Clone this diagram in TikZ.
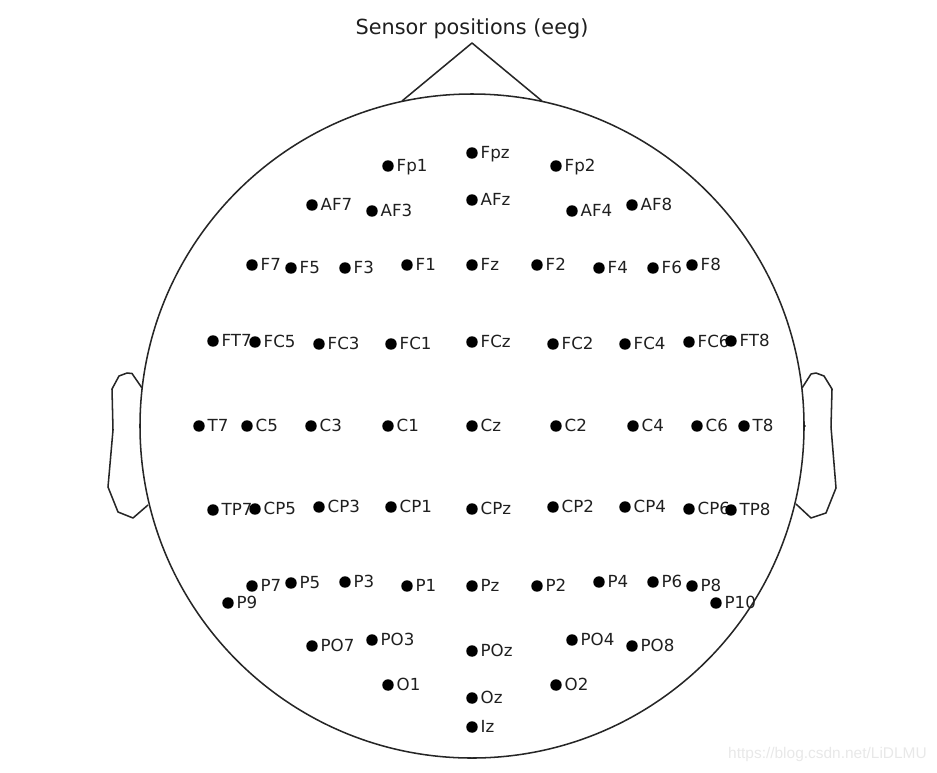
\documentclass[tikz,border=0pt]{standalone}
\usepackage{fontspec}
\setmainfont{DejaVu Sans}
\newfontfamily\markfont{Liberation Sans}
\tikzset{
  outline/.style={draw=black!85, line width=1.15pt, line join=round},
  sensor/.style={circle, fill=black, inner sep=0pt, minimum size=8.6pt},
  sensorlabel/.style={font=\fontsize{12.5}{14}\selectfont, text=black!88, inner sep=0pt, text height=9pt, text depth=1.5pt, label distance=1.8pt}
}
\begin{document}
\begin{tikzpicture}[x=0.75pt, y=-0.75pt]

  \useasboundingbox (0, 0) rectangle (937, 772);

  % -- Title --
  \node[font=\fontsize{15.6}{18}\selectfont, text=black!88] (title) at (472, 29) {Sensor positions (eeg)};

  % -- Head outline --
  \draw[outline] (472, 426) circle (332);

  % -- Nose --
  \draw[outline] (402, 101) -- (472, 43) -- (542, 101);

  % -- Ears --
  \draw[outline] (142, 388) -- (132, 373.5) -- (127, 373) -- (119, 376) -- (112, 389) -- (113, 430) -- (108, 487) -- (118, 512) -- (133, 518) -- (148, 505);
  \draw[outline] (802, 388) -- (811, 374) -- (816, 373) -- (824, 376) -- (832, 389) -- (831, 427) -- (836, 488) -- (826, 513) -- (811, 518) -- (796, 504);
  \fill[black] (805, 426) circle (0.8);

  % -- Sensors, row by row --
  \foreach \x/\y/\name in {
    388/166/Fp1, 472/153/Fpz, 556/166/Fp2,
    312/205/AF7, 372/211/AF3, 472/200/AFz, 572/211/AF4, 632/205/AF8,
    252/265/F7, 291/268/F5, 345/268/F3, 407/265/F1, 472/265/Fz, 537/265/F2, 599/268/F4, 653/268/F6, 692/265/F8,
    213/341/FT7, 255/342/FC5, 319/344/FC3, 391/344/FC1, 472/342/FCz, 553/344/FC2, 625/344/FC4, 689/342/FC6, 731/341/FT8,
    199/426/T7, 247/426/C5, 311/426/C3, 388/426/C1, 472/426/Cz, 556/426/C2, 633/426/C4, 697/426/C6, 744/426/T8,
    213/510/TP7, 255/509/CP5, 319/507/CP3, 391/507/CP1, 472/509/CPz, 553/507/CP2, 625/507/CP4, 689/509/CP6, 731/510/TP8,
    228/603/P9, 252/586/P7, 291/583/P5, 345/582/P3, 407/586/P1, 472/586/Pz, 537/586/P2, 599/582/P4, 653/582/P6, 692/586/P8, 716/603/P10,
    312/646/PO7, 372/640/PO3, 472/651/POz, 572/640/PO4, 632/646/PO8,
    388/685/O1, 472/698/Oz, 556/685/O2, 472/727/Iz}
    \node[sensor, label={[sensorlabel]right:\name}] (\name) at (\x, \y) {};

  % Watermark
  \node[text=black!9, font=\fontsize{11.6}{14}\selectfont\markfont] (mark) at (827.5, 754) {https://blog.csdn.net/LiDLMU};

\end{tikzpicture}
\end{document}
